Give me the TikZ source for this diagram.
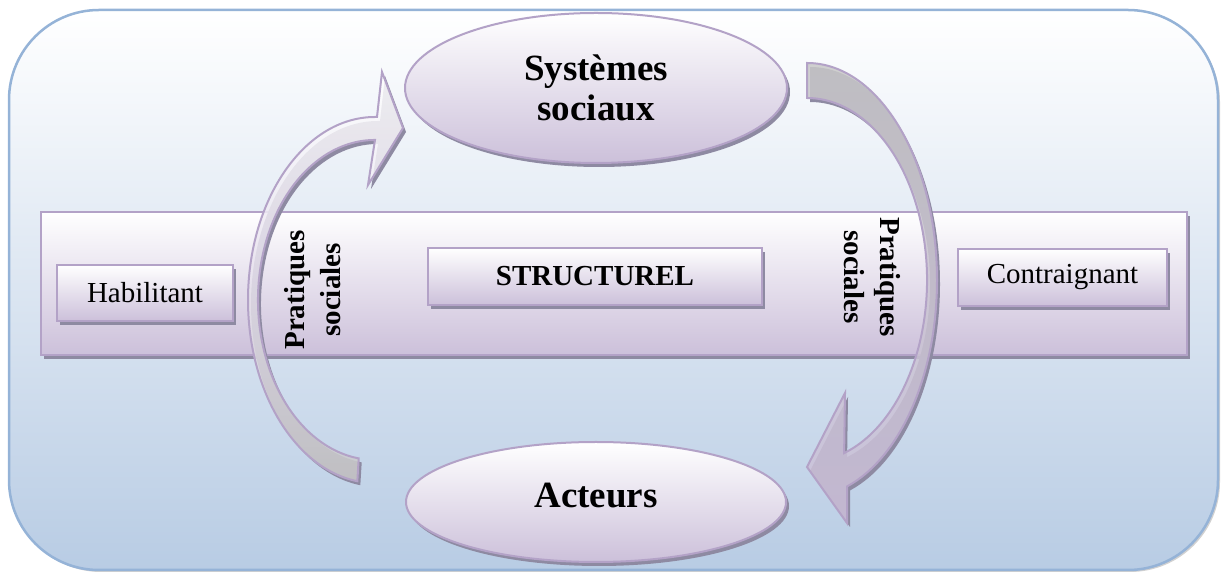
\documentclass[tikz,border=0pt]{standalone}
\usepackage{fontspec}
\setmainfont{Liberation Serif}
\usetikzlibrary{shapes.geometric,shadows}
\definecolor{lavfill}{HTML}{CCC0DA}
\definecolor{lavline}{HTML}{B3A2C7}
\definecolor{bluefill}{HTML}{B8CCE4}
\definecolor{blueline}{HTML}{95B3D7}
\definecolor{shadowgrey}{HTML}{8E8AA2}
\definecolor{backgrey}{HTML}{C8C8C8}
\tikzset{
  lavshadow/.style={drop shadow={shadow xshift=3pt, shadow yshift=-4pt, fill=shadowgrey, opacity=1}},
  lavbox/.style={draw=lavline, line width=2pt, top color=white, bottom color=lavfill, inner sep=0pt, lavshadow},
  lavoval/.style={lavbox, ellipse, font=\bfseries\fontsize{37}{40}\selectfont, align=center},
  boxtext/.style={font=\fontsize{29}{33}\selectfont},
  sidetext/.style={font=\bfseries\fontsize{29}{36}\selectfont, align=center},
  bandarrow/.style={draw=lavline, line width=2pt, fill opacity=.85, lavshadow}
}
\begin{document}
\begin{tikzpicture}[x = 1pt, y = 1pt]
	\useasboundingbox (0,0) rectangle (1223,580);
	\draw[draw=blueline, line width=2.5pt, rounded corners=90pt, top color=white, bottom color=bluefill,
	  drop shadow={shadow xshift=2pt, shadow yshift=-2pt, fill=black!30, opacity=.6}] (9,570) rectangle (1218,10); %frame
	\node[lavbox, minimum width=1146pt, minimum height=143pt] (band) at (614,296.5) {}; %middle band
	\node[lavbox, boxtext, minimum width=176pt, minimum height=56pt] (habil) at (145,287) {Habilitant};
	\node[lavbox, boxtext, font=\bfseries\fontsize{29}{33}\selectfont, minimum width=334pt, minimum height=57pt] (struct) at (595,303.5) {STRUCTUREL};
	\node[lavbox, boxtext, minimum width=209pt, minimum height=57pt] (contr) at (1062.5,302.5) {Contraignant};
	\node[lavoval, minimum width=382pt, minimum height=150pt] (systemes) at (596,492) {Systèmes\\sociaux};
	\node[lavoval, minimum width=380pt, minimum height=120pt] (acteurs) at (596,78) {\raisebox{13pt}{Acteurs}};
	\draw[bandarrow, top color=white, bottom color=backgrey, middle color=lavfill!45]
	  (375,463) arc[start angle=90, end angle=262, x radius=127, y radius=183] %outer edge
	  -- (358.7,121.6) arc[start angle=262, end angle=90, x radius=117, y radius=160] %inner edge
	  -- (368,395) -- (403,452) -- (382,508) -- (377,463) -- cycle; %head
	\draw[bandarrow, top color=backgrey, bottom color=lavfill]
	  (807,517) arc[start angle=90, end angle=-72, x radius=130, y radius=217] %outer edge
	  -- (847,57) -- (807,113) -- (845,187) -- (844.1,126.9) %head
	  arc[start angle=-72, end angle=90, x radius=120, y radius=182] -- cycle; %inner edge
	\node[sidetext, rotate=90] (pratgauche) at (313,290) {Pratiques\\sociales};
	\node[sidetext, rotate=-90] (pratdroite) at (872,303) {Pratiques\\sociales};
\end{tikzpicture}
\end{document}
